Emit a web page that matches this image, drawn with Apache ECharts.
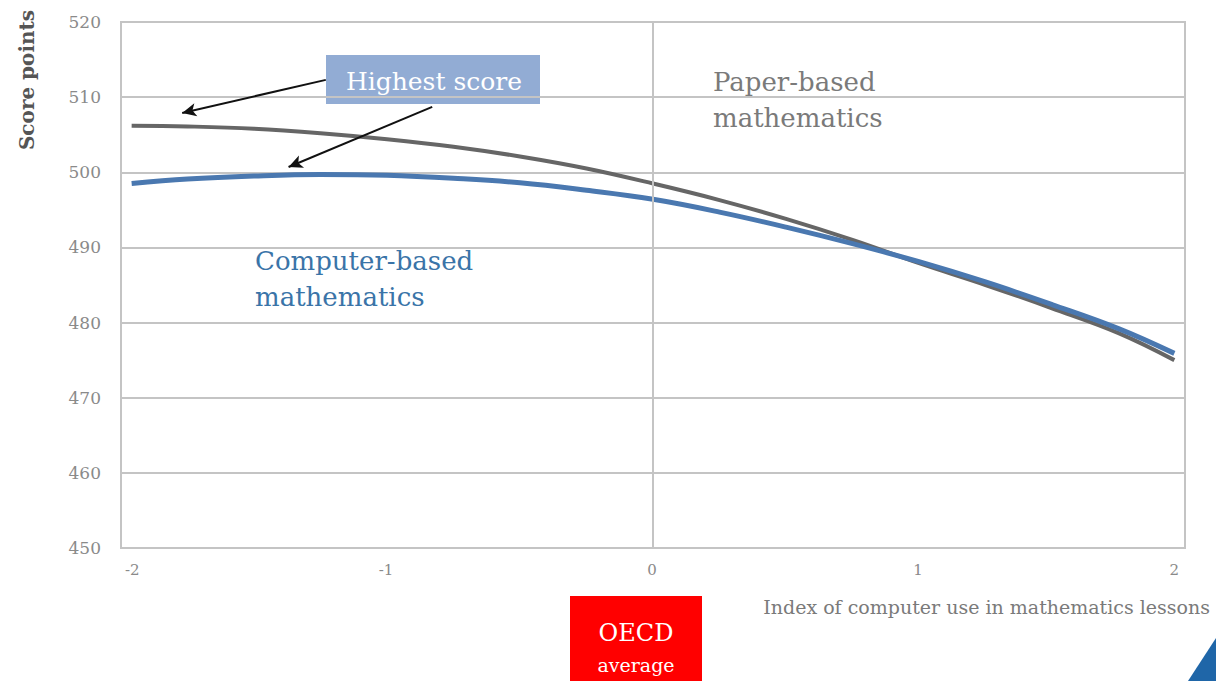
<!DOCTYPE html>
<html>
<head>
<meta charset="utf-8">
<script src="https://cdn.jsdelivr.net/npm/echarts@6/dist/echarts.min.js"></script>
<style>
  html, body { margin: 0; padding: 0; background: #fff; }
  #chart { width: 1216px; height: 681px; }
</style>
</head>
<body>
<div id="chart"></div>
<script>
// index of computer use in mathematics lessons
const indexValues = [-1.96, -1.75, -1.5, -1.25, -1.0, -0.75, -0.5, -0.25, 0, 0.25, 0.5, 0.75, 1.0, 1.25, 1.5, 1.75, 1.96];
const paperScores = [506.2, 506.1, 505.8, 505.2, 504.4, 503.4, 502.1, 500.5, 498.5, 496.3, 493.8, 491.0, 487.9, 485.0, 481.9, 478.6, 475.0];
const computerScores = [498.5, 499.1, 499.5, 499.7, 499.6, 499.2, 498.6, 497.6, 496.4, 494.7, 492.7, 490.5, 488.1, 485.4, 482.4, 479.2, 475.9];

const xTicks = [-2, -1, 0, 1, 2];
const yTicks = [450, 460, 470, 480, 490, 500, 510, 520];

// "Highest score" arrows, [from, to] in data coordinates
const arrowPaper = [[-1.23, 512.3], [-1.77, 507.9]];
const arrowComputer = [[-0.83, 508.7], [-1.37, 500.7]];

const serif = "'DejaVu Serif', 'Liberation Serif', serif";

const chart = echarts.init(document.getElementById("chart"), null, { renderer: "svg" });

const pairs = (ys) => indexValues.map((x, i) => [x, ys[i]]);

chart.setOption({
  animation: false,
  backgroundColor: "#fff",
  grid: {
    left: 121,
    right: 31,
    top: 22,
    bottom: 133,
    show: true,
    borderColor: "#c4c4c4",
    borderWidth: 2,
  },
  xAxis: {
    type: "value",
    min: xTicks[0],
    max: xTicks[xTicks.length - 1],
    interval: 1,
    axisLine: { show: false },
    axisTick: { show: false },
    splitLine: { show: false },
    axisLabel: {
      margin: 14,
      color: "#8a8a8a",
      fontFamily: serif,
      fontSize: 15,
      alignMinLabel: "left",
      alignMaxLabel: "right",
      padding: [0, 6, 0, 4],
    },
  },
  yAxis: {
    type: "value",
    min: yTicks[0],
    max: yTicks[yTicks.length - 1],
    interval: 10,
    axisLine: { show: false },
    axisTick: { show: false },
    splitLine: { lineStyle: { color: "#c4c4c4", width: 2 } },
    axisLabel: {
      margin: 20,
      color: "#8a8a8a",
      fontFamily: serif,
      fontSize: 17,
      padding: [8, 0, 0, 0],
    },
  },
  series: [
    {
      name: "Computer-based mathematics",
      type: "line",
      smooth: 0.4,
      showSymbol: false,
      data: pairs(computerScores),
      lineStyle: { color: "#4a78b0", width: 5 },
      z: 3,
      markLine: {
        silent: true,
        symbol: "none",
        label: { show: false },
        lineStyle: { color: "#c4c4c4", width: 2, type: "solid" },
        data: [{ xAxis: 0 }],
      },
    },
    {
      name: "Paper-based mathematics",
      type: "line",
      smooth: 0.4,
      showSymbol: false,
      data: pairs(paperScores),
      lineStyle: { color: "#666666", width: 4 },
      z: 2,
      markLine: {
        silent: true,
        symbol: ["none", "arrow"],
        symbolSize: [10, 14],
        label: { show: false },
        lineStyle: { color: "#111", width: 2, type: "solid" },
        data: [
          [{ coord: arrowPaper[0] }, { coord: arrowPaper[1] }],
          [{ coord: arrowComputer[0] }, { coord: arrowComputer[1] }],
        ],
      },
    },
  ],
  graphic: [
    {
      type: "text",
      rotation: Math.PI / 2,
      x: 17,
      y: 80,
      style: {
        text: "Score points",
        fill: "#555",
        font: "bold 20px " + serif,
        textAlign: "center",
      },
    },
    {
      type: "group",
      left: 326,
      top: 55,
      children: [
        { type: "rect", shape: { x: 0, y: 0, width: 214, height: 49 }, style: { fill: "#92acd4" } },
        {
          type: "text",
          x: 108,
          y: 26,
          style: {
            text: "Highest score",
            fill: "#fff",
            font: "25px " + serif,
            textAlign: "center",
            textVerticalAlign: "middle",
          },
        },
      ],
    },
    {
      type: "text",
      left: 713,
      top: 64,
      style: {
        text: "Paper-based\nmathematics",
        fill: "#7a7a7a",
        font: "26px " + serif,
        lineHeight: 36,
      },
    },
    {
      type: "text",
      left: 255,
      top: 243,
      style: {
        text: "Computer-based\nmathematics",
        fill: "#3a74a8",
        font: "26px " + serif,
        lineHeight: 36,
      },
    },
    {
      type: "text",
      right: 6,
      top: 597,
      style: {
        text: "Index of computer use in mathematics lessons",
        fill: "#7a7a7a",
        font: "19px " + serif,
      },
    },
    {
      type: "group",
      left: 570,
      top: 596,
      children: [
        { type: "rect", shape: { x: 0, y: 0, width: 132, height: 90 }, style: { fill: "#ff0000" } },
        {
          type: "text",
          x: 66,
          y: 37,
          style: { text: "OECD", fill: "#fff", font: "24px " + serif, textAlign: "center", textVerticalAlign: "middle" },
        },
        {
          type: "text",
          x: 66,
          y: 69,
          style: { text: "average", fill: "#fff", font: "19px " + serif, textAlign: "center", textVerticalAlign: "middle" },
        },
      ],
    },
    {
      type: "polygon",
      shape: { points: [[1216, 638], [1216, 681], [1188, 681]] },
      style: { fill: "#1f66a8" },
    },
  ],
});
</script>
</body>
</html>
